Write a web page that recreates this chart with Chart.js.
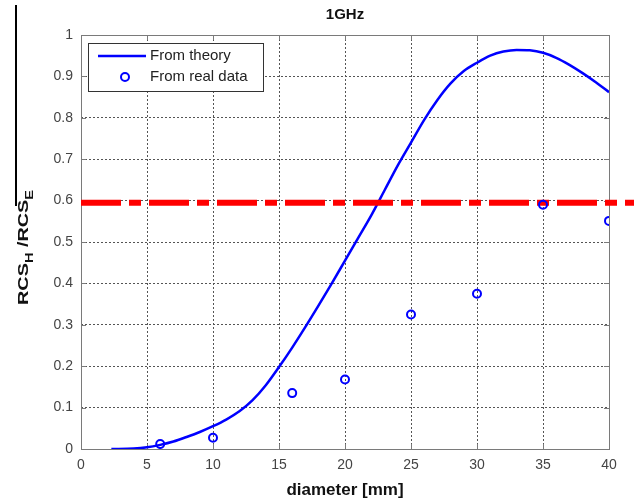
<!DOCTYPE html>
<html lang="en">
<head>
    <meta charset="UTF-8">
    <title>1GHz</title>
    <script src="https://cdn.jsdelivr.net/npm/chart.js"></script>
    <style>
        html, body { margin: 0; padding: 0; background: #fff; }
        #wrap { width: 634px; height: 501px; }
    </style>
</head>
<body>
<div id="wrap"><canvas id="chart" width="634" height="501"></canvas></div>
<script>
// theory curve
const theoryX = [2.3, 4, 5, 6, 7, 8, 9, 10, 11, 12, 13, 14, 15, 16, 17, 18, 19, 20, 21, 22, 23, 24, 25, 26, 27, 28, 29, 30, 31, 32, 33, 34, 35, 36, 37, 38, 39, 40];
const theoryY = [0, 0.001, 0.004, 0.01, 0.018, 0.029, 0.041, 0.055, 0.071, 0.091, 0.118, 0.154, 0.198, 0.245, 0.295, 0.347, 0.4, 0.455, 0.51, 0.565, 0.625, 0.685, 0.74, 0.795, 0.843, 0.883, 0.913, 0.933, 0.95, 0.96, 0.964, 0.963, 0.957, 0.945, 0.928, 0.908, 0.886, 0.862];

// measured points
const realX = [6, 10, 16, 20, 25, 30, 35, 40];
const realY = [0.012, 0.027, 0.135, 0.168, 0.325, 0.375, 0.59, 0.551];

// threshold line (runs past the right edge in the original)
const thresholdX = [0, 42];
const thresholdY = [0.595, 0.595];

const xTicks = [0, 5, 10, 15, 20, 25, 30, 35, 40];
const yTicks = [0, 0.1, 0.2, 0.3, 0.4, 0.5, 0.6, 0.7, 0.8, 0.9, 1];

const pts = (xs, ys) => xs.map((x, i) => ({ x: x, y: ys[i] }));

const FONT = "'Liberation Sans', Arial, sans-serif";
const BLUE = '#0000ff';
const FRAME = '#7a7a7a';

// frame with inward ticks, title, y label, black bar and boxed legend
const extras = {
    id: 'extras',
    beforeDatasetsDraw(chart) {
        const c = chart.ctx;
        const a = chart.chartArea;
        const sx = chart.scales.x, sy = chart.scales.y;
        c.save();
        c.strokeStyle = FRAME;
        c.lineWidth = 1;
        c.strokeRect(Math.round(a.left) + 0.5, Math.round(a.top) + 0.5,
            Math.round(a.right - a.left), Math.round(a.bottom - a.top));
        c.beginPath();
        xTicks.forEach(v => {
            const px = Math.round(sx.getPixelForValue(v)) + 0.5;
            c.moveTo(px, a.bottom); c.lineTo(px, a.bottom - 5);
            c.moveTo(px, a.top); c.lineTo(px, a.top + 5);
        });
        yTicks.forEach(v => {
            const py = Math.round(sy.getPixelForValue(v)) + 0.5;
            c.moveTo(a.left, py); c.lineTo(a.left + 5, py);
            c.moveTo(a.right, py); c.lineTo(a.right - 5, py);
        });
        c.stroke();
        c.restore();
    },
    afterDraw(chart) {
        const c = chart.ctx;
        const a = chart.chartArea;

        // title centred over the plot
        c.save();
        c.font = 'bold 15px ' + FONT;
        c.fillStyle = '#111';
        c.textAlign = 'center';
        c.textBaseline = 'middle';
        c.fillText('1GHz', (a.left + a.right) / 2, 15);
        c.restore();

        // vertical bar running down into the y label
        c.save();
        c.strokeStyle = '#000';
        c.lineWidth = 2;
        c.beginPath();
        c.moveTo(16, 5);
        c.lineTo(16, 206);
        c.stroke();
        c.restore();

        // y title: RCS_H /RCS_E, squeezed to the original's length
        const parts = [['RCS', 15, 0], ['H', 11, 5], [' /', 15, 0], ['RCS', 15, 0], ['E', 11, 5]];
        c.save();
        let total = 0;
        parts.forEach(p => { c.font = 'bold ' + p[1] + 'px ' + FONT; total += c.measureText(p[0]).width; });
        c.translate(28, 305);
        c.rotate(-Math.PI / 2);
        c.scale(115 / total, 1);
        c.fillStyle = '#111';
        c.textBaseline = 'alphabetic';
        let x = 0;
        parts.forEach(p => {
            c.font = 'bold ' + p[1] + 'px ' + FONT;
            c.fillText(p[0], x, p[2]);
            x += c.measureText(p[0]).width;
        });
        c.restore();

        // legend box
        const lx = 88, ly = 43, lw = 175, lh = 48;
        c.save();
        c.fillStyle = '#fff';
        c.fillRect(lx, ly, lw, lh);
        c.strokeStyle = '#333';
        c.lineWidth = 1;
        c.strokeRect(lx + 0.5, ly + 0.5, lw, lh);
        c.font = '15px ' + FONT;
        c.fillStyle = '#222';
        c.textBaseline = 'middle';
        const sets = chart.data.datasets.filter(d => d.inLegend);
        sets.forEach((d, i) => {
            const cy = ly + 13 + i * 21;
            if (d.showLine !== false) {
                c.strokeStyle = d.borderColor;
                c.lineWidth = d.borderWidth;
                c.beginPath();
                c.moveTo(lx + 10, cy);
                c.lineTo(lx + 58, cy);
                c.stroke();
            } else {
                c.strokeStyle = d.pointBorderColor;
                c.lineWidth = d.pointBorderWidth;
                c.beginPath();
                c.arc(lx + 37, cy, d.pointRadius, 0, Math.PI * 2);
                c.stroke();
            }
            c.fillText(d.label, lx + 62, cy);
        });
        c.restore();
    }
};

new Chart(document.getElementById('chart'), {
    type: 'scatter',
    data: {
        datasets: [
            {
                label: 'From theory',
                inLegend: true,
                data: pts(theoryX, theoryY),
                showLine: true,
                borderColor: BLUE,
                borderWidth: 2.5,
                pointRadius: 0,
                cubicInterpolationMode: 'monotone',
                order: 3
            },
            {
                label: 'threshold',
                data: pts(thresholdX, thresholdY),
                showLine: true,
                borderColor: '#ff0000',
                borderWidth: 6,
                borderDash: [40, 8, 12, 8],
                pointRadius: 0,
                clip: false,
                order: 2
            },
            {
                label: 'From real data',
                inLegend: true,
                data: pts(realX, realY),
                showLine: false,
                pointStyle: 'circle',
                pointRadius: 4,
                pointBorderWidth: 2,
                pointBorderColor: BLUE,
                pointBackgroundColor: 'rgba(0,0,0,0)',
                order: 1
            }
        ]
    },
    options: {
        responsive: false,
        animation: false,
        events: [],
        layout: { padding: { top: 35, right: 25, bottom: 0, left: 0 } },
        plugins: {
            legend: { display: false },
            tooltip: { enabled: false },
            title: { display: false }
        },
        scales: {
            x: {
                type: 'linear',
                min: 0,
                max: 40,
                afterBuildTicks: s => { s.ticks = xTicks.map(v => ({ value: v })); },
                afterFit: s => { s.height = 52; },
                ticks: { color: '#444', font: { family: FONT, size: 14 }, padding: 8 },
                grid: { color: '#555', drawTicks: false },
                border: { display: false, dash: [2, 2] },
                title: {
                    display: true,
                    text: 'diameter [mm]',
                    color: '#111',
                    font: { family: FONT, size: 17, weight: 'bold' },
                    padding: { top: 3, bottom: 0 }
                }
            },
            y: {
                type: 'linear',
                min: 0,
                max: 1,
                afterBuildTicks: s => { s.ticks = yTicks.map(v => ({ value: v })); },
                afterFit: s => { s.width = 81; },
                ticks: {
                    color: '#444',
                    font: { family: FONT, size: 14 },
                    padding: 8,
                    callback: v => String(Math.round(v * 10) / 10)
                },
                grid: { color: '#555', drawTicks: false },
                border: { display: false, dash: [2, 2] }
            }
        }
    },
    plugins: [extras]
});
</script>
</body>
</html>
